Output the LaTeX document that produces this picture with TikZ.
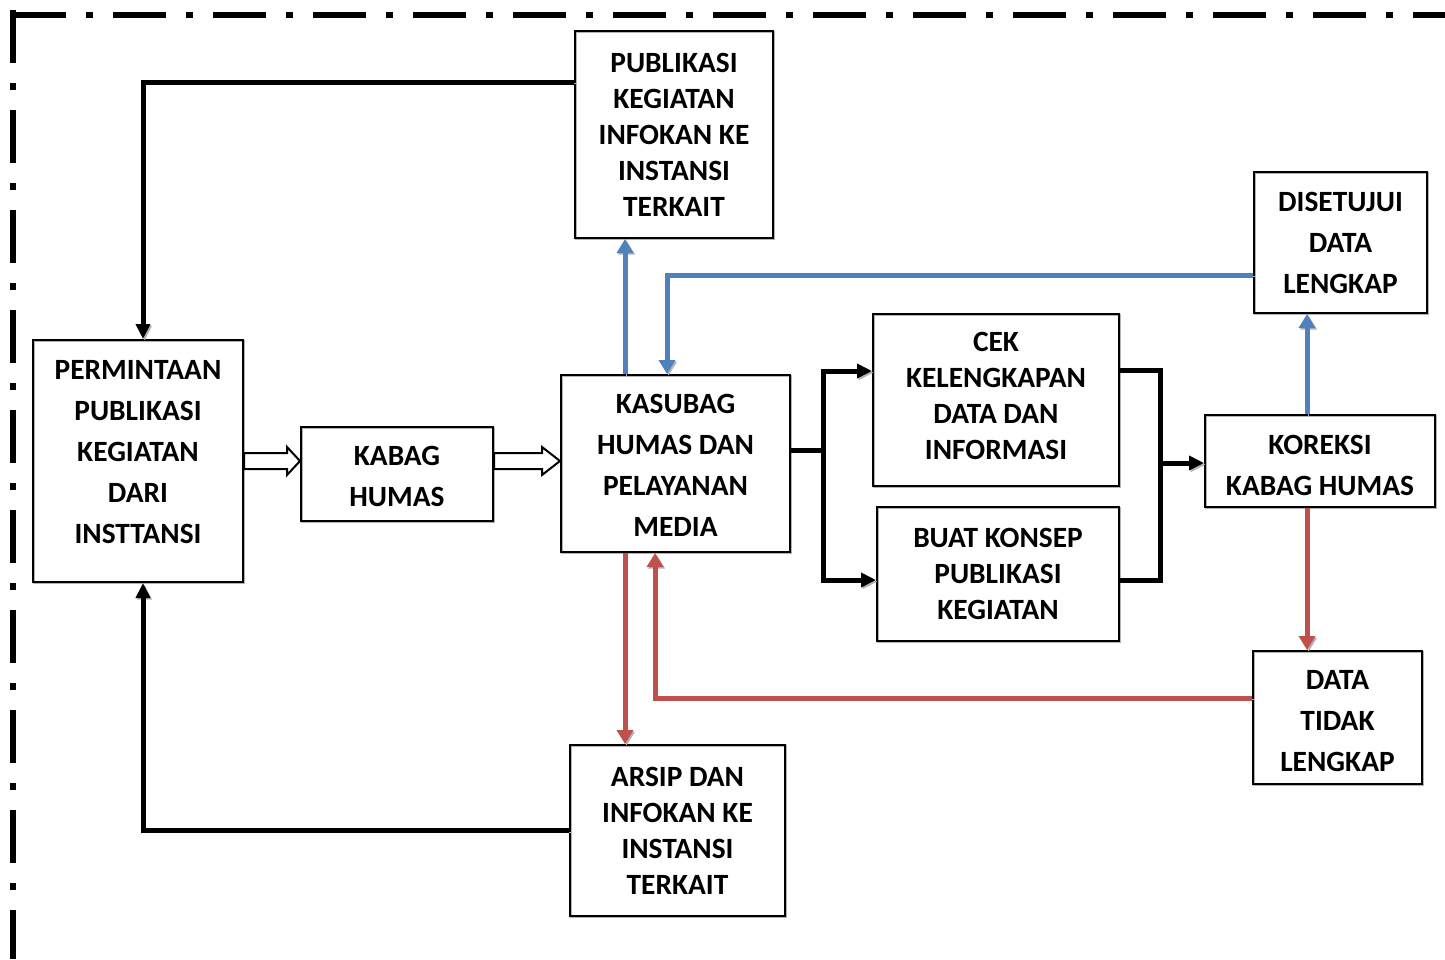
\documentclass[tikz,border=0pt]{standalone}
\usepackage{fontspec}
\setmainfont{Carlito}
\usetikzlibrary{arrows.meta,calc}
\definecolor{ablue}{HTML}{4F81BD}
\definecolor{ared}{HTML}{C0504D}
\newcommand\liftbox[2]{\raisebox{#1}[\height][\depth]{\begin{tabular}{@{}c@{}}#2\end{tabular}}}
\tikzset{
  box/.style={draw, line width=1pt, align=center, inner sep=0pt,
    font=\fontsize{14.7}{20.5}\selectfont\bfseries,
    preaction={draw=black!30, line width=1pt, transform canvas={shift={(0.7pt,-0.7pt)}}}},
  tightbox/.style={box, font=\fontsize{14.7}{18}\selectfont\bfseries},
  shadowed/.style={preaction={draw=black!30, transform canvas={shift={(0.8pt,-0.8pt)}}}},
  blkline/.style={line width=2.5pt, line join=miter, shadowed},
  blkarrow/.style={blkline, -{Triangle[length=7.5pt,width=7pt]}},
  bluearrow/.style={draw=ablue, line width=2.5pt, line join=miter, shadowed, -{Triangle[length=7pt,width=8pt]}},
  redarrow/.style={draw=ared, line width=2.5pt, line join=miter, shadowed, -{Triangle[length=7pt,width=8pt]}},
  hollow/.style={draw, fill=white, line width=1pt, line join=miter},
  frame/.style={line width=3pt, dash pattern=on 26.5pt off 10pt on 3.5pt off 10pt}
}
\begin{document}
\begin{tikzpicture}[x=0.5pt,y=-0.5pt]
\useasboundingbox (0,0) rectangle (1445,959);

% frame
\draw[frame] (13,15) -- (1445,15);
\draw[frame] (13,10) -- (13,959);

% boxes
\node[tightbox, minimum width=99pt, minimum height=103.5pt] (pub) at (674,134.5) {PUBLIKASI\\KEGIATAN\\INFOKAN KE\\INSTANSI\\TERKAIT};
\node[box, minimum width=86.5pt, minimum height=70.5pt] (dis) at (1340.5,242.5) {DISETUJUI\\DATA\\LENGKAP};
\node[box, minimum width=105pt, minimum height=121pt] (perm) at (138,461) {\liftbox{4pt}{PERMINTAAN\\PUBLIKASI\\KEGIATAN\\DARI\\INSTTANSI}};
\node[box, minimum width=96pt, minimum height=47pt] (kabag) at (397,474) {\liftbox{-2pt}{KABAG\\HUMAS}};
\node[box, minimum width=114.5pt, minimum height=88.5pt] (kas) at (675.5,463.5) {\liftbox{-1.5pt}{KASUBAG\\HUMAS DAN\\PELAYANAN\\MEDIA}};
\node[tightbox, minimum width=123pt, minimum height=86pt] (cek) at (996,400) {\liftbox{1pt}{CEK\\KELENGKAPAN\\DATA DAN\\INFORMASI}};
\node[tightbox, minimum width=121pt, minimum height=67pt] (buat) at (998,574) {BUAT KONSEP\\PUBLIKASI\\KEGIATAN};
\node[box, minimum width=115pt, minimum height=46pt] (kor) at (1320,461) {\liftbox{-3pt}{KOREKSI\\KABAG HUMAS}};
\node[box, minimum width=84.5pt, minimum height=66.5pt] (tidak) at (1337.5,717.5) {\liftbox{-2.5pt}{DATA\\TIDAK\\LENGKAP}};
\node[tightbox, minimum width=107.5pt, minimum height=85.5pt] (arsip) at (677.5,830.5) {ARSIP DAN\\INFOKAN KE\\INSTANSI\\TERKAIT};

% black return connectors
\draw[blkarrow] ([yshift=-26pt]pub.north west) -| ([xshift=2.5pt]perm.north);
\draw[blkarrow] (arsip.west) -| ([xshift=2.5pt]perm.south);

% hollow arrows
\coordinate (h1) at (kabag.west |- perm.east);
\coordinate (s2) at (kabag.east |- perm.east);
\coordinate (h2) at (kas.west |- perm.east);
\draw[hollow] ($(perm.east)+(0,-8)$) -- ($(h1)+(-13,-8)$) -- ($(h1)+(-13,-14)$) -- (h1)
  -- ($(h1)+(-13,14)$) -- ($(h1)+(-13,8)$) -- ($(perm.east)+(0,8)$) -- cycle;
\draw[hollow] ($(s2)+(0,-8)$) -- ($(h2)+(-18,-8)$) -- ($(h2)+(-18,-14)$) -- (h2)
  -- ($(h2)+(-18,14)$) -- ($(h2)+(-18,8)$) -- ($(s2)+(0,8)$) -- cycle;

% blue connectors
\draw[bluearrow] ([xshift=-25.25pt]kas.north) -- ([xshift=-25.25pt]kas.north |- pub.south);
\draw[bluearrow] ([yshift=-16.25pt]dis.west) -| ([xshift=-4.25pt]kas.north);
\draw[bluearrow] ([xshift=-6.5pt]kor.north) -- ([xshift=-6.5pt]kor.north |- dis.south);

% red connectors
\draw[redarrow] ([xshift=-6.5pt]kor.south) -- ([xshift=-6.5pt]kor.south |- tidak.north);
\draw[redarrow] ([yshift=9.75pt]tidak.west) -| ([xshift=-10.25pt]kas.south);
\draw[redarrow] ([xshift=-25.25pt]kas.south) -- ([xshift=-25.25pt]kas.south |- arsip.north);

% fork to cek / buat
\coordinate (fork) at (823,450);
\draw[blkline] ([yshift=6.75pt]kas.east) -- (fork);
\draw[blkarrow] (fork) |- ([yshift=14.5pt]cek.west);
\draw[blkarrow] (fork) |- ([yshift=-3pt]buat.west);

% join to koreksi
\coordinate (join) at (1160,463);
\draw[blkline] ([yshift=15pt]cek.east) -| (join);
\draw[blkline] ([yshift=-3pt]buat.east) -| (join);
\draw[blkarrow] (join) -- (kor.west |- join);
\end{tikzpicture}
\end{document}
